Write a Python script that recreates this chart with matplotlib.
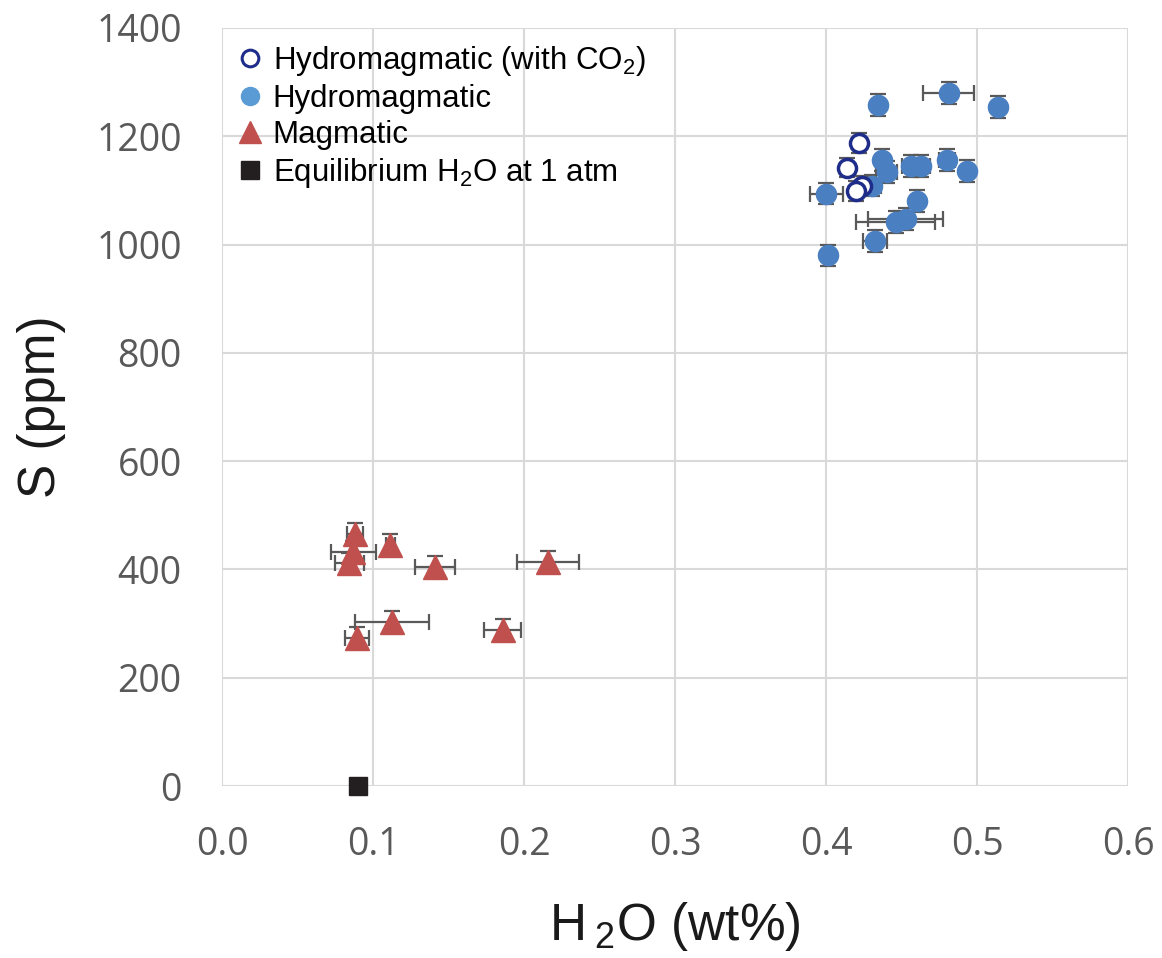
import numpy as np
import matplotlib
matplotlib.use('Agg')
import matplotlib.pyplot as plt

plt.rcParams['font.family'] = ['Liberation Sans', 'DejaVu Sans']
plt.rcParams['mathtext.fontset'] = 'custom'
plt.rcParams['mathtext.rm'] = 'Liberation Sans'
plt.rcParams['mathtext.it'] = 'Liberation Sans'

# hydromagmatic with CO2 (open circles)
co2_h2o = [0.4214, 0.4137, 0.4236, 0.4199]
co2_s = [1188, 1142, 1109, 1099]
co2_xerr = [0.002, 0.002, 0.002, 0.002]
co2_yerr = [18, 18, 18, 18]

# hydromagmatic (filled circles)
hyd_h2o = [0.481, 0.434, 0.514, 0.437, 0.440, 0.456, 0.463, 0.480, 0.493,
           0.430, 0.400, 0.460, 0.446, 0.4526, 0.4325, 0.4009]
hyd_s = [1280, 1258, 1254, 1156, 1134, 1145, 1145, 1156, 1136,
         1109, 1094, 1080, 1042, 1047, 1006, 980]
hyd_xerr = [0.0166, 0.002, 0.002, 0.002, 0.007, 0.006, 0.006, 0.005, 0.003,
            0.006, 0.011, 0.003, 0.026, 0.025, 0.008, 0.002]
hyd_yerr = [20] * 16

# magmatic (triangles)
mag_h2o = [0.0881, 0.1113, 0.087, 0.0843, 0.141, 0.2157, 0.1126, 0.0892, 0.1859]
mag_s = [465, 445, 432, 411, 404, 414, 303, 273, 288]
mag_xerr = [0.005, 0.003, 0.015, 0.0095, 0.0135, 0.0204, 0.0245, 0.008, 0.0123]
mag_yerr = [20] * 9

# equilibrium H2O at 1 atm
eq_h2o = [0.0903]
eq_s = [0]

fig = plt.figure(figsize=(11.62, 9.58), dpi=100)
ax = fig.add_axes([0.191, 0.1795, 0.78, 0.7913])

ecol = '#595959'
ebkw = dict(fmt='none', ecolor=ecol, elinewidth=1.6, capsize=5.5, capthick=1.6, zorder=2)
ax.errorbar(hyd_h2o, hyd_s, xerr=hyd_xerr, yerr=hyd_yerr, **ebkw)
ax.errorbar(co2_h2o, co2_s, xerr=co2_xerr, yerr=co2_yerr, **ebkw)
ax.errorbar(mag_h2o, mag_s, xerr=mag_xerr, yerr=mag_yerr, **ebkw)

ax.plot(hyd_h2o, hyd_s, 'o', ms=14.5, mfc='#4a7fc1', mec='#4a7fc1', zorder=3)
ax.plot(co2_h2o, co2_s, 'o', ms=13, mfc='white', mec='#1f2d8a', mew=2.5, zorder=4)
ax.plot(mag_h2o, mag_s, '^', ms=17, mfc='#c0504d', mec='#c0504d', zorder=3)
ax.plot(eq_h2o, eq_s, 's', ms=13.5, mfc='#231f20', mec='#231f20', zorder=5, clip_on=False)

# legend handles
h1, = ax.plot([], [], 'o', ms=12, mfc='white', mec='#1f2d8a', mew=2.2)
h2, = ax.plot([], [], 'o', ms=13, mfc='#5b9bd5', mec='#5b9bd5')
h3, = ax.plot([], [], '^', ms=16, mfc='#c0504d', mec='#c0504d')
h4, = ax.plot([], [], 's', ms=12.5, mfc='#231f20', mec='#231f20')
ax.legend([h1, h2, h3, h4],
          ['Hydromagmatic (with CO$_2$)', 'Hydromagmatic', 'Magmatic',
           'Equilibrium H$_2$O at 1 atm'],
          loc='upper left', frameon=False, fontsize=22.5, handlelength=0.8,
          handletextpad=0.32, labelspacing=0.2, borderpad=0.5, borderaxespad=0.0)

ax.set_xlim(0, 0.6)
ax.set_ylim(0, 1400)
ax.set_xticks(np.arange(0, 0.61, 0.1))
ax.set_xticklabels(['%.1f' % v for v in np.arange(0, 0.61, 0.1)])
ax.set_yticks(range(0, 1401, 200))
ax.grid(True, color='#d9d9d9', lw=1.5)
ax.set_axisbelow(True)
for sp in ax.spines.values():
    sp.set_visible(False)
ax.tick_params(length=0, labelsize=27, colors='#595959')
ax.tick_params(axis='y', pad=29)
ax.tick_params(axis='x', pad=29)
for lab in ax.get_xticklabels() + ax.get_yticklabels():
    lab.set_family('Open Sans')

ax.set_xlabel(r'H$_{\;2}$O (wt%)', fontsize=37, color='#1a1a1a', labelpad=26)
ax.set_ylabel('S (ppm)', fontsize=37, color='#1a1a1a', labelpad=22)

fig.savefig('out.png', dpi=100)
